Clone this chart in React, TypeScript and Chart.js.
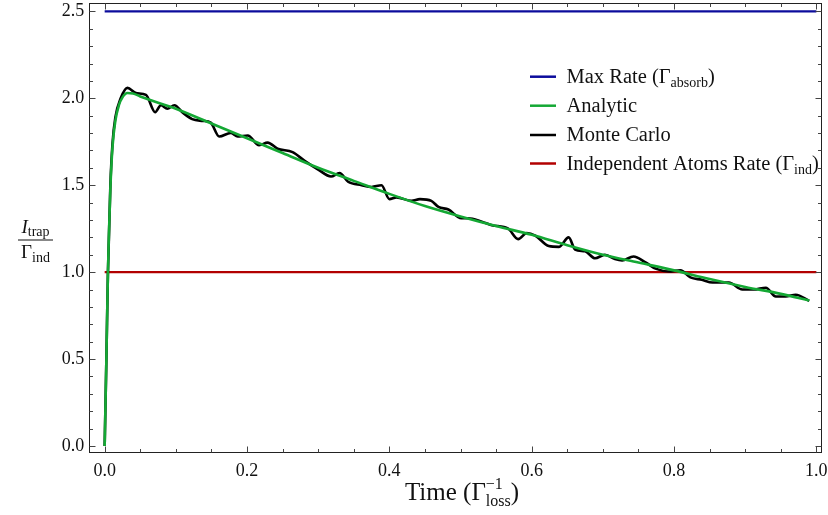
import React, { useEffect, useRef } from 'react';
import { Chart, registerables } from 'chart.js';

Chart.register(...registerables);

// ---- data ----
const analyticT = [0, 0.001, 0.0024, 0.0046, 0.006, 0.008, 0.011, 0.015, 0.02, 0.025, 0.032, 0.04, 0.05,
  0.1, 0.15, 0.2, 0.25, 0.3, 0.35, 0.4, 0.45, 0.5, 0.55, 0.6, 0.65, 0.7, 0.75, 0.8, 0.85, 0.9, 0.95, 0.99];
const analyticV = [0, 0.21, 0.5, 1.0, 1.22, 1.48, 1.72, 1.87, 1.96, 2.005, 2.03, 2.028, 2.01,
  1.94, 1.855, 1.77, 1.685, 1.6, 1.525, 1.45, 1.38, 1.32, 1.265, 1.215, 1.155, 1.1, 1.055, 1.01, 0.96, 0.915, 0.875, 0.837];

const monteT = [0, 0.001, 0.0024, 0.0046, 0.008, 0.011, 0.015, 0.0225, 0.032, 0.044, 0.058, 0.071, 0.079, 0.088,
  0.098, 0.109, 0.123, 0.138, 0.149, 0.161, 0.177, 0.187, 0.201, 0.217, 0.229, 0.243, 0.264, 0.281, 0.3, 0.318,
  0.33, 0.342, 0.361, 0.375, 0.389, 0.4, 0.41, 0.431, 0.443, 0.459, 0.469, 0.483, 0.501, 0.511, 0.53, 0.544,
  0.567, 0.581, 0.593, 0.605, 0.624, 0.638, 0.652, 0.661, 0.675, 0.689, 0.703, 0.717, 0.727, 0.743, 0.76, 0.774,
  0.793, 0.809, 0.823, 0.839, 0.854, 0.877, 0.896, 0.912, 0.929, 0.943, 0.957, 0.971, 0.99];
const monteV = [0, 0.21, 0.5, 1.0, 1.5, 1.74, 1.89, 2.0, 2.06, 2.03, 2.02, 1.92, 1.96, 1.94,
  1.96, 1.92, 1.88, 1.87, 1.86, 1.78, 1.8, 1.78, 1.786, 1.73, 1.745, 1.71, 1.69, 1.64, 1.59, 1.55,
  1.57, 1.52, 1.5, 1.49, 1.5, 1.42, 1.43, 1.41, 1.42, 1.41, 1.375, 1.36, 1.31, 1.31, 1.29, 1.27,
  1.25, 1.19, 1.225, 1.21, 1.15, 1.145, 1.2, 1.13, 1.12, 1.08, 1.1, 1.075, 1.067, 1.09, 1.056, 1.02,
  1.004, 1.01, 0.97, 0.956, 0.94, 0.94, 0.9, 0.9, 0.91, 0.86, 0.86, 0.87, 0.835];

const refSpan = [0, 1];
const maxRate = 2.5;
const indRate = 1.0;

const xMajor = [0, 0.2, 0.4, 0.6, 0.8, 1.0];
const xMinor = [0.05, 0.1, 0.15, 0.25, 0.3, 0.35, 0.45, 0.5, 0.55, 0.65, 0.7, 0.75, 0.85, 0.9, 0.95];
const yMajor = [0, 0.5, 1.0, 1.5, 2.0, 2.5];
const yMinor = [0.1, 0.2, 0.3, 0.4, 0.6, 0.7, 0.8, 0.9, 1.1, 1.2, 1.3, 1.4, 1.6, 1.7, 1.8, 1.9, 2.1, 2.2, 2.3, 2.4];

const legendLabels = ['Max Rate', 'Analytic', 'Monte Carlo', 'Independent Atoms Rate'];
const legendSubs = ['absorb', '', '', 'ind'];

const COLORS = { blue: '#0c0c9c', green: '#14a834', black: '#000000', red: '#b20000' };
const FONT = "'Liberation Serif', 'DejaVu Serif', serif";

type Part = { t: string; size: number; dy?: number; italic?: boolean; sup?: Part; sub?: Part };

function pFont(p: Part) {
  return `${p.italic ? 'italic ' : ''}${p.size}px ${FONT}`;
}
function pWidth(ctx: CanvasRenderingContext2D, p: Part): number {
  if (p.sup && p.sub) return Math.max(pWidth(ctx, p.sup), pWidth(ctx, p.sub));
  ctx.font = pFont(p);
  return ctx.measureText(p.t).width;
}
function drawRich(ctx: CanvasRenderingContext2D, parts: Part[], x: number, y: number, align: 'left' | 'center' | 'right') {
  const total = parts.reduce((s, p) => s + pWidth(ctx, p), 0);
  let cx = align === 'center' ? x - total / 2 : align === 'right' ? x - total : x;
  ctx.textAlign = 'left';
  ctx.textBaseline = 'alphabetic';
  for (const p of parts) {
    const w = pWidth(ctx, p);
    if (p.sup && p.sub) {
      ctx.font = pFont(p.sup);
      ctx.fillText(p.sup.t, cx, y + (p.sup.dy || 0));
      ctx.font = pFont(p.sub);
      ctx.fillText(p.sub.t, cx, y + (p.sub.dy || 0));
    } else {
      ctx.font = pFont(p);
      ctx.fillText(p.t, cx, y + (p.dy || 0));
    }
    cx += w;
  }
  return total;
}

const framePlugin = {
  id: 'framePlugin',
  afterDraw(chart: any) {
    const { ctx, chartArea: a, scales } = chart;
    const xs = scales.x;
    const ys = scales.y;
    ctx.save();
    ctx.strokeStyle = '#222';
    ctx.lineWidth = 1;
    ctx.strokeRect(Math.round(a.left) + 0.5, Math.round(a.top) + 0.5, Math.round(a.right - a.left), Math.round(a.bottom - a.top));
    const L = Math.round(a.left) + 0.5, R = Math.round(a.right) + 0.5;
    const T = Math.round(a.top) + 0.5, B = Math.round(a.bottom) + 0.5;
    ctx.beginPath();
    const xt = (v: number, len: number) => {
      const px = Math.round(xs.getPixelForValue(v)) + 0.5;
      ctx.moveTo(px, B); ctx.lineTo(px, B - len);
      ctx.moveTo(px, T); ctx.lineTo(px, T + len);
    };
    const yt = (v: number, len: number) => {
      const py = Math.round(ys.getPixelForValue(v)) + 0.5;
      ctx.moveTo(L, py); ctx.lineTo(L + len, py);
      ctx.moveTo(R, py); ctx.lineTo(R - len, py);
    };
    xMajor.forEach((v) => xt(v, 6));
    xMinor.forEach((v) => xt(v, 3.5));
    yMajor.forEach((v) => yt(v, 6));
    yMinor.forEach((v) => yt(v, 3.5));
    ctx.strokeStyle = '#444';
    ctx.stroke();

    ctx.fillStyle = '#111';
    drawRich(ctx, [
      { t: 'Time (', size: 25 },
      { t: 'Γ', size: 25 },
      { t: '', size: 16, sup: { t: '−1', size: 16, dy: -11 }, sub: { t: 'loss', size: 16, dy: 6 } },
      { t: ')', size: 25 },
    ], 462, 500, 'center');

    const fx = 35.5;
    drawRich(ctx, [
      { t: 'I', size: 19, italic: true },
      { t: 'trap', size: 14, dy: 3 },
    ], fx, 233, 'center');
    ctx.fillRect(18, 239.5, 35, 1);
    drawRich(ctx, [
      { t: 'Γ', size: 19 },
      { t: 'ind', size: 14, dy: 4 },
    ], fx, 258, 'center');

    const colors = [COLORS.blue, COLORS.green, COLORS.black, COLORS.red];
    const rowY = [76.7, 105.7, 135, 163.5];
    legendLabels.forEach((lab, i) => {
      ctx.strokeStyle = colors[i];
      ctx.lineWidth = 2.5;
      ctx.beginPath();
      ctx.moveTo(530, rowY[i]);
      ctx.lineTo(556, rowY[i]);
      ctx.stroke();
      ctx.fillStyle = '#111';
      const parts: Part[] = [{ t: lab, size: 20.5 }];
      if (legendSubs[i]) {
        parts.push({ t: ' (', size: 20.5 });
        parts.push({ t: 'Γ', size: 20.5 });
        parts.push({ t: legendSubs[i], size: 14, dy: 4 });
        parts.push({ t: ')', size: 20.5 });
      }
      drawRich(ctx, parts, 566.5, rowY[i] + 6, 'left');
    });
    ctx.restore();
  },
};

export default function App() {
  const ref = useRef<HTMLCanvasElement>(null);
  useEffect(() => {
    const toXY = (t: number[], v: number[]) => t.map((x, i) => ({ x, y: v[i] }));
    const chart = new Chart(ref.current as HTMLCanvasElement, {
      type: 'line',
      data: {
        datasets: [
          {
            label: 'Analytic',
            data: toXY(analyticT, analyticV),
            borderColor: COLORS.green,
            borderWidth: 2.6,
            pointRadius: 0,
            cubicInterpolationMode: 'monotone',
            order: 0,
          },
          {
            label: 'Monte Carlo',
            data: toXY(monteT, monteV),
            borderColor: COLORS.black,
            borderWidth: 2.6,
            pointRadius: 0,
            cubicInterpolationMode: 'monotone',
            order: 1,
          },
          {
            label: 'Independent Atoms Rate',
            data: refSpan.map((x) => ({ x, y: indRate })),
            borderColor: COLORS.red,
            borderWidth: 2.2,
            pointRadius: 0,
            order: 2,
          },
          {
            label: 'Max Rate',
            data: refSpan.map((x) => ({ x, y: maxRate })),
            borderColor: COLORS.blue,
            borderWidth: 2.4,
            pointRadius: 0,
            order: 3,
          },
        ],
      },
      options: {
        animation: false,
        responsive: false,
        devicePixelRatio: 1,
        layout: { padding: { top: 3, right: 7, left: 0, bottom: 0 } },
        plugins: { legend: { display: false }, tooltip: { enabled: false } },
        scales: {
          x: {
            type: 'linear',
            min: -0.0216,
            max: 1.0065,
            grid: { display: false, drawTicks: false },
            border: { display: false },
            afterBuildTicks: (s: any) => { s.ticks = xMajor.map((value) => ({ value })); },
            afterFit: (s: any) => { s.height = 63; s.paddingLeft = 0; s.paddingRight = 0; },
            ticks: {
              padding: 8,
              color: '#111',
              font: { family: FONT, size: 18 },
              callback: (v: any) => Number(v).toFixed(1),
              maxRotation: 0,
            },
          },
          y: {
            type: 'linear',
            min: -0.0346,
            max: 2.548,
            grid: { display: false, drawTicks: false },
            border: { display: false },
            afterBuildTicks: (s: any) => { s.ticks = yMajor.map((value) => ({ value })); },
            afterFit: (s: any) => { s.width = 89.3; s.paddingTop = 0; s.paddingBottom = 0; },
            ticks: {
              padding: 5,
              color: '#111',
              font: { family: FONT, size: 18 },
              callback: (v: any) => Number(v).toFixed(1),
            },
          },
        },
      },
      plugins: [framePlugin],
    } as any);
    return () => chart.destroy();
  }, []);
  return (
    <div style={{ position: 'fixed', left: 0, top: 0, width: 828, height: 515, background: '#fff' }}>
      <canvas ref={ref} width={828} height={515} style={{ width: 828, height: 515, display: 'block' }} />
    </div>
  );
}
